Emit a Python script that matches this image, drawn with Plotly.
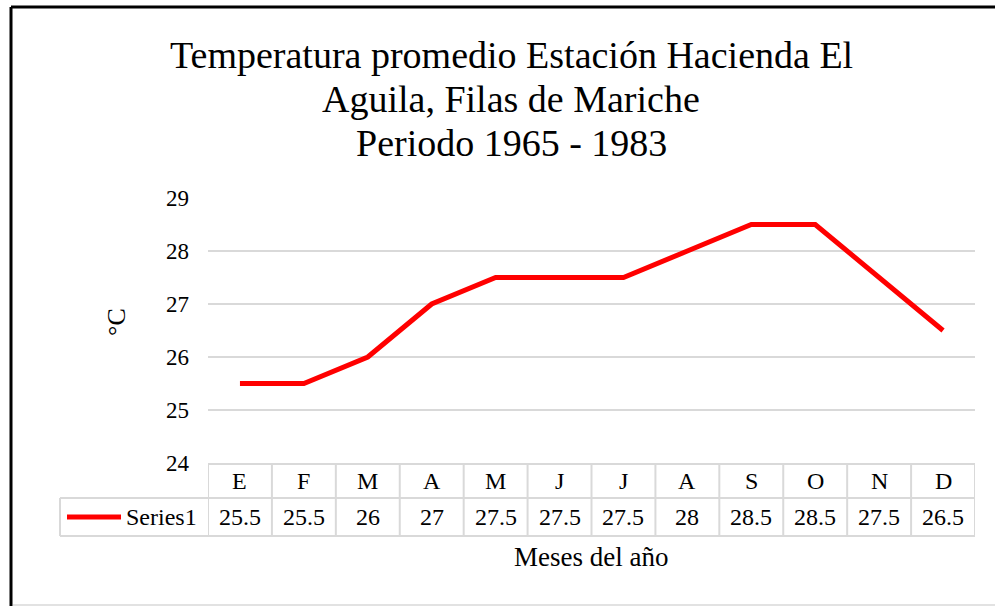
import plotly.graph_objects as go

# ---- data ----
months = ["E", "F", "M", "A", "M", "J", "J", "A", "S", "O", "N", "D"]
temps = [25.5, 25.5, 26, 27, 27.5, 27.5, 27.5, 28, 28.5, 28.5, 27.5, 26.5]
series_name = "Series1"
title_lines = ["Temperatura promedio Estación Hacienda El",
               "Aguila, Filas de Mariche",
               "Periodo 1965 - 1983"]
y_title = "°C"
x_title = "Meses del año"
y_ticks = [24, 25, 26, 27, 28, 29]

# ---- layout geometry (pixels) ----
W_PX, H_PX = 995, 606
L, R, T, B = 208, 975, 198, 463
PW, PH = R - L, B - T


def px(xp):
    return (xp - L) / PW


def py(yp):
    return (B - yp) / PH


FONT = "Liberation Serif"
GRID = "#d9d9d9"
idx = list(range(len(months)))

fig = go.Figure()
fig.add_trace(go.Scatter(
    x=idx, y=temps, mode="lines",
    line=dict(color="#ff0000", width=5),
    showlegend=False, hoverinfo="skip", cliponaxis=False,
))

shapes = []
ann = []

# table rows (pixel y)
ROW_TOP, ROW_MID, ROW_BOT = 464, 498, 536
LEG_LEFT = 60

# horizontal borders
shapes.append(dict(type="line", xref="paper", yref="paper", x0=0, x1=1,
                   y0=py(ROW_TOP), y1=py(ROW_TOP), line=dict(color=GRID, width=2)))
for yy in (ROW_MID, ROW_BOT):
    shapes.append(dict(type="line", xref="paper", yref="paper", x0=px(LEG_LEFT), x1=1,
                       y0=py(yy), y1=py(yy), line=dict(color=GRID, width=2)))
# vertical borders
for i in range(len(months) + 1):
    shapes.append(dict(type="line", xref="x", yref="paper", x0=i - 0.5, x1=i - 0.5,
                       y0=py(ROW_TOP), y1=py(ROW_BOT), line=dict(color=GRID, width=2)))
shapes.append(dict(type="line", xref="paper", yref="paper", x0=px(LEG_LEFT), x1=px(LEG_LEFT),
                   y0=py(ROW_MID), y1=py(ROW_BOT), line=dict(color=GRID, width=2)))

# legend key
shapes.append(dict(type="line", xref="paper", yref="paper", x0=px(67), x1=px(121),
                   y0=py(517), y1=py(517), line=dict(color="#ff0000", width=5)))
ann.append(dict(text=series_name, xref="paper", yref="paper", x=px(199), y=py(517),
                xanchor="right", yanchor="middle", showarrow=False,
                font=dict(family=FONT, size=24, color="#000")))

# table text
for i, (m, v) in enumerate(zip(months, temps)):
    ann.append(dict(text=m, xref="x", yref="paper", x=i, y=py(481),
                    xanchor="center", yanchor="middle", showarrow=False,
                    font=dict(family=FONT, size=24, color="#000")))
    ann.append(dict(text=f"{v:g}", xref="x", yref="paper", x=i, y=py(517),
                    xanchor="center", yanchor="middle", showarrow=False,
                    font=dict(family=FONT, size=24, color="#000")))

# titles
for txt, yc in zip(title_lines, (55, 99, 143)):
    ann.append(dict(text=txt, xref="paper", yref="paper", x=px(511), y=py(yc),
                    xanchor="center", yanchor="middle", showarrow=False,
                    font=dict(family=FONT, size=38, color="#000")))

ann.append(dict(text=y_title, xref="paper", yref="paper", x=px(116), y=py(322),
                xanchor="center", yanchor="middle", showarrow=False, textangle=-90,
                font=dict(family=FONT, size=26, color="#000")))
ann.append(dict(text=x_title, xref="paper", yref="paper", x=px(591), y=py(557),
                xanchor="center", yanchor="middle", showarrow=False,
                font=dict(family=FONT, size=27, color="#000")))

# outer frame
shapes.append(dict(type="line", xref="paper", yref="paper", x0=px(11), x1=px(1000),
                   y0=py(7), y1=py(7), line=dict(color="#000", width=3)))
shapes.append(dict(type="line", xref="paper", yref="paper", x0=px(11), x1=px(11),
                   y0=py(7), y1=py(610), line=dict(color="#000", width=3)))
shapes.append(dict(type="line", xref="paper", yref="paper", x0=px(13), x1=px(1000),
                   y0=py(605), y1=py(605), line=dict(color=GRID, width=1.5)))

fig.update_layout(
    width=W_PX, height=H_PX,
    margin=dict(l=L, r=W_PX - R, t=T, b=H_PX - B, autoexpand=False),
    paper_bgcolor="white", plot_bgcolor="white",
    shapes=shapes, annotations=ann, showlegend=False,
    xaxis=dict(range=[-0.5, len(months) - 0.5], showgrid=False, zeroline=False,
               showticklabels=False, showline=False, ticks="", fixedrange=True),
    yaxis=dict(range=[min(y_ticks), max(y_ticks)], tickvals=y_ticks, showgrid=True,
               gridcolor=GRID, gridwidth=2, zeroline=False, showline=False, ticks="",
               ticklabelstandoff=18,
               tickfont=dict(family=FONT, size=23, color="#000"), fixedrange=True),
)

fig.write_html("out.html", config={"displayModeBar": False},
               post_script="document.body.style.margin='0';document.body.style.overflow='hidden';")
